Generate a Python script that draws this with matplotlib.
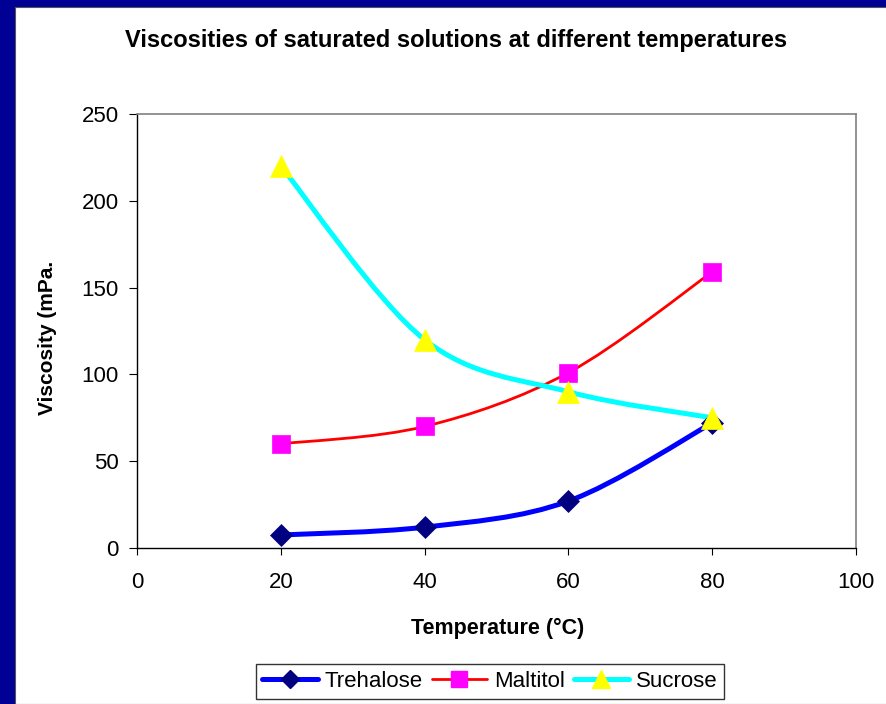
import matplotlib
matplotlib.use("Agg")
import matplotlib.pyplot as plt
from matplotlib.path import Path
from matplotlib.patches import PathPatch, Rectangle
from matplotlib.lines import Line2D
import numpy as np

plt.rcParams['font.family'] = ['Liberation Sans', 'DejaVu Sans']

# Saturated-solution viscosities (mPa.s) at each temperature (°C)
temperature = [20, 40, 60, 80]
trehalose = [7.5, 12, 27, 72]
maltitol = [60, 70, 101, 159]
sucrose = [220, 120, 90, 75]

x_ticks = [0, 20, 40, 60, 80, 100]
y_ticks = [0, 50, 100, 150, 200, 250]

W, H = 887, 704
fig = plt.figure(figsize=(W / 100, H / 100), dpi=100)
fig.patch.set_facecolor('#000094')
# white slide panel inside the navy frame
fig.add_artist(Rectangle((15 / W, 0), 1 - 15 / W, 1 - 7 / H, transform=fig.transFigure,
                         facecolor='white', edgecolor='#555555', linewidth=0.8, zorder=0))

ax = fig.add_axes([137 / W, 1 - 548 / H, (856 - 137) / W, (548 - 114) / H])
ax.set_facecolor('white')
ax.set_xlim(0, 100)
ax.set_ylim(0, 250)
ax.set_xticks(x_ticks)
ax.set_yticks(y_ticks)
ax.tick_params(axis='both', direction='out', labelsize=16, colors='black', width=0.8)
ax.tick_params(axis='y', length=6, pad=7)
ax.tick_params(axis='x', length=5, pad=12)
for side in ('left', 'bottom'):
    ax.spines[side].set_color('black')
    ax.spines[side].set_linewidth(1.0)
for side in ('top', 'right'):
    ax.spines[side].set_color('#808080')
    ax.spines[side].set_linewidth(1.2)


def smooth_path(xs, ys):
    """Cubic Bezier path through the points (Catmull-Rom style tangents)."""
    pts = np.column_stack([xs, ys]).astype(float)
    n = len(pts)
    verts = [pts[0]]
    codes = [Path.MOVETO]
    for i in range(n - 1):
        p_prev = pts[max(i - 1, 0)]
        p0 = pts[i]
        p1 = pts[i + 1]
        p_next = pts[min(i + 2, n - 1)]
        c1 = p0 + (p1 - p_prev) / 6.0
        c2 = p1 - (p_next - p0) / 6.0
        verts += [c1, c2, p1]
        codes += [Path.CURVE4] * 3
    return Path(np.array(verts), codes)


series = [
    ('Trehalose', trehalose, '#0000FF', 3.6, 'D', '#000080', 11),
    ('Maltitol', maltitol, '#FF0000', 2.0, 's', '#FF00FF', 13),
    ('Sucrose', sucrose, '#00FFFF', 3.6, '^', '#FFFF00', 16),
]

handles = []
for k, (name, vals, lc, lw, mk, mc, ms) in enumerate(series):
    patch = PathPatch(smooth_path(temperature, vals), facecolor='none', edgecolor=lc,
                      linewidth=lw, capstyle='round', joinstyle='round', zorder=2 + k * 0.1)
    ax.add_patch(patch)
    ax.plot(temperature, vals, linestyle='none', marker=mk, markersize=ms,
            markerfacecolor=mc, markeredgecolor=mc, markeredgewidth=0.5,
            zorder=3 + k * 0.1, clip_on=False)
    handles.append(Line2D([], [], color=lc, linewidth=lw, marker=mk, markersize=ms * 0.85,
                          markerfacecolor=mc, markeredgecolor=mc, solid_capstyle='round'))

fig.text(456 / W, 1 - 40 / H, 'Viscosities of saturated solutions at different temperatures',
         ha='center', va='center', fontsize=17, fontweight='bold')
fig.text(498 / W, 1 - 628 / H, 'Temperature (°C)', ha='center', va='center',
         fontsize=15.5, fontweight='bold')
fig.text(48 / W, 1 - 338 / H, 'Viscosity (mPa.', ha='center', va='center',
         rotation=90, fontsize=15, fontweight='bold')

leg = fig.legend(handles, [s[0] for s in series], loc='center', ncol=3,
                 bbox_to_anchor=(490 / W, 1 - 681.5 / H), bbox_transform=fig.transFigure,
                 fontsize=16, frameon=True, fancybox=False, shadow=False,
                 edgecolor='black', borderpad=0.3, handlelength=2.5, handletextpad=0.3,
                 columnspacing=0.4, numpoints=1, borderaxespad=0)
leg.get_frame().set_linewidth(1.0)

fig.savefig('out.png', dpi=100, facecolor=fig.get_facecolor())
